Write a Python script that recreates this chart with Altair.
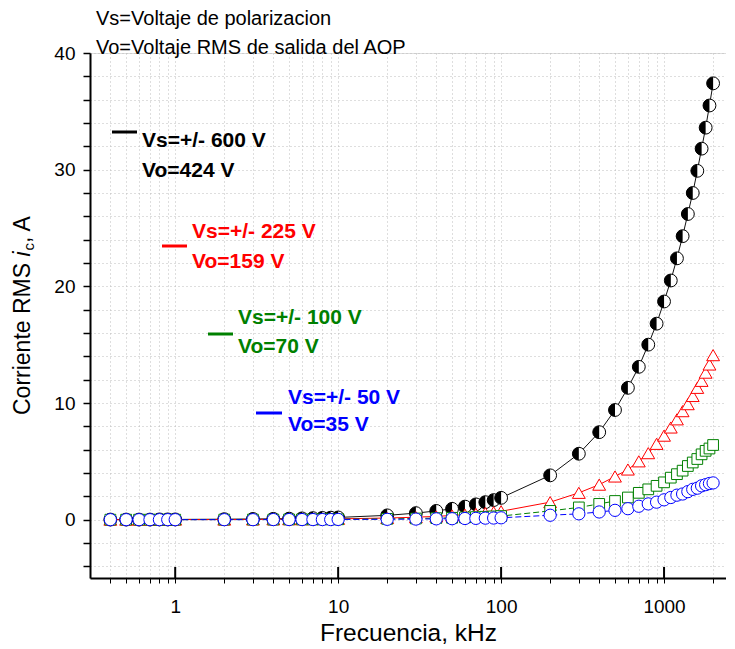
import altair as alt
import pandas as pd

# ---------------- data ----------------
freq = [0.4, 0.5, 0.6, 0.7, 0.8, 0.9, 1,
        2, 3, 4, 5, 6, 7, 8, 9, 10,
        20, 30, 40, 50, 60, 70, 80, 90, 100,
        200, 300, 400, 500, 600, 700, 800, 900, 1000,
        1100, 1200, 1300, 1400, 1500, 1600, 1700, 1800, 1900, 2000]

i_600 = [0.01, 0.01, 0.01, 0.01, 0.02, 0.02, 0.02,
         0.04, 0.06, 0.07, 0.09, 0.11, 0.13, 0.15, 0.17, 0.19,
         0.37, 0.56, 0.75, 0.93, 1.12, 1.31, 1.5, 1.68, 1.87,
         3.8, 5.65, 7.5, 9.4, 11.3, 13.1, 15.0, 16.8, 18.7,
         20.5, 22.4, 24.3, 26.2, 28.0, 29.9, 31.8, 33.6, 35.5, 37.4]

i_225 = [0.0, 0.0, 0.0, 0.0, 0.01, 0.01, 0.01,
         0.01, 0.02, 0.03, 0.04, 0.04, 0.05, 0.06, 0.06, 0.07,
         0.14, 0.21, 0.28, 0.36, 0.43, 0.5, 0.57, 0.64, 0.72,
         1.5, 2.3, 3.0, 3.7, 4.3, 5.0, 5.7, 6.5, 7.2,
         7.9, 8.6, 9.3, 9.9, 10.6, 11.3, 11.9, 12.6, 13.3, 14.1]

i_100 = [0.0, 0.0, 0.0, 0.0, 0.0, 0.0, 0.0,
         0.01, 0.01, 0.01, 0.02, 0.02, 0.02, 0.03, 0.03, 0.03,
         0.07, 0.1, 0.13, 0.16, 0.19, 0.22, 0.25, 0.28, 0.31,
         0.75, 1.05, 1.35, 1.6, 1.9, 2.3, 2.6, 2.9, 3.2,
         3.6, 3.9, 4.2, 4.6, 4.9, 5.2, 5.6, 5.9, 6.1, 6.4]

i_50 = [0.0, 0.0, 0.0, 0.0, 0.0, 0.0, 0.0,
        0.0, 0.0, 0.01, 0.01, 0.01, 0.01, 0.01, 0.01, 0.02,
        0.03, 0.05, 0.07, 0.08, 0.1, 0.11, 0.13, 0.14, 0.16,
        0.38, 0.5, 0.66, 0.8, 0.94, 1.15, 1.35, 1.5, 1.7,
        1.9, 2.1, 2.2, 2.4, 2.6, 2.7, 2.9, 3.0, 3.1, 3.15]

x_tick_values = [0.4, 0.5, 0.6, 0.7, 0.8, 0.9,
                 1, 2, 3, 4, 5, 6, 7, 8, 9,
                 10, 20, 30, 40, 50, 60, 70, 80, 90,
                 100, 200, 300, 400, 500, 600, 700, 800, 900,
                 1000, 2000]
x_major = [1, 10, 100, 1000]
y_tick_values = list(range(-4, 41, 2))

FONT = "Liberation Sans"

# ---------------- scales / axes ----------------
x_scale = alt.Scale(type="log", domain=[0.3, 2400], nice=False)
y_scale = alt.Scale(domain=[-5, 40], nice=False, zero=False)

x_axis = alt.Axis(
    values=x_tick_values, format="d",
    labelExpr="indexof([1,10,100,1000], datum.value) >= 0 ? datum.label : ''",
    tickSize=5, tickColor="black", tickWidth=1,
    domainColor="black", domainWidth=2,
    grid=True, gridColor="#bdbdbd", gridDash=[1, 3], gridWidth=1,
    labelFontSize=19, labelColor="black", labelPadding=14, labelFont=FONT,
    title="Frecuencia, kHz", titleFontSize=24.5, titleFontWeight="normal",
    titleColor="black", titlePadding=5, titleFont=FONT,
)
y_axis = alt.Axis(
    values=y_tick_values, format="d",
    labelExpr="datum.value % 10 === 0 ? datum.label : ''",
    tickSize=7, tickColor="black", tickWidth=1.5,
    domainColor="black", domainWidth=2,
    grid=True, gridColor="#bdbdbd", gridDash=[1, 3], gridWidth=1,
    labelFontSize=19, labelColor="black", labelPadding=8, labelFont=FONT,
    title=None,
)

X = alt.X("f:Q", scale=x_scale, axis=x_axis)
Y = alt.Y("i:Q", scale=y_scale, axis=y_axis)


def series_df(values):
    return pd.DataFrame({"f": freq, "i": values})


layers = []

# black: +/-600 V, half-filled circles
d600 = series_df(i_600)
layers.append(alt.Chart(d600).mark_line(color="#111111", strokeWidth=1).encode(x=X, y=Y))
layers.append(alt.Chart(d600).mark_point(shape="circle", filled=True, fill="white",
                                         stroke="black", strokeWidth=1, size=165,
                                         opacity=1).encode(x=X, y=Y))
layers.append(alt.Chart(d600).mark_point(shape="M0,-1A1,1 0 0,0 0,1Z", filled=True,
                                         color="black", strokeWidth=0, size=165,
                                         opacity=1).encode(x=X, y=Y))

# red: +/-225 V, triangles
d225 = series_df(i_225)
layers.append(alt.Chart(d225).mark_line(color="#ff0000", strokeWidth=1).encode(x=X, y=Y))
layers.append(alt.Chart(d225).mark_point(shape="triangle-up", filled=True, fill="white",
                                         stroke="#ff0000", strokeWidth=1, size=165,
                                         opacity=1).encode(x=X, y=Y))

# green: +/-100 V, squares
d100 = series_df(i_100)
layers.append(alt.Chart(d100).mark_line(color="#008000", strokeWidth=1,
                                        strokeDash=[6, 3]).encode(x=X, y=Y))
layers.append(alt.Chart(d100).mark_point(shape="square", filled=True, fill="white",
                                         stroke="#008000", strokeWidth=1, size=115,
                                         opacity=1).encode(x=X, y=Y))

# blue: +/-50 V, circles
d50 = series_df(i_50)
layers.append(alt.Chart(d50).mark_line(color="#0000ff", strokeWidth=1,
                                       strokeDash=[6, 3]).encode(x=X, y=Y))
layers.append(alt.Chart(d50).mark_point(shape="circle", filled=True, fill="white",
                                        stroke="#0000ff", strokeWidth=1, size=150,
                                        opacity=1).encode(x=X, y=Y))

# inward major ticks on the x axis
layers.append(alt.Chart(pd.DataFrame({"f": x_major})).mark_rule(
    color="black", strokeWidth=2).encode(x=X, y=alt.value(525), y2=alt.value(514)))

one = alt.Data(values=[{"k": 1}])


def text(t, x, y, size, color="black", weight="normal", **kw):
    return alt.Chart(one).mark_text(
        text=t, font=FONT, fontSize=size, color=color, fontWeight=weight,
        align="left", baseline="middle", **kw
    ).encode(x=alt.value(x), y=alt.value(y))


def seg(x1, x2, y, color):
    return alt.Chart(one).mark_rule(color=color, strokeWidth=3).encode(
        x=alt.value(x1), x2=alt.value(x2), y=alt.value(y))


# header notes
layers.append(text("Vs=Voltaje de polarizacion", 6, -34, 20))
layers.append(text("Vo=Voltaje RMS de salida del AOP", 6, -5, 20))

# in-plot legend annotations
AN = 21
layers.append(seg(22, 47, 79, "black"))
layers.append(text("Vs=+/- 600 V", 52, 88, AN, "black", "bold"))
layers.append(text("Vo=424 V", 52, 118, AN, "black", "bold"))

layers.append(seg(72, 97, 193, "#ff0000"))
layers.append(text("Vs=+/- 225 V", 102, 179, AN, "#ff0000", "bold"))
layers.append(text("Vo=159 V", 102, 209, AN, "#ff0000", "bold"))

layers.append(seg(118, 143, 281, "#008000"))
layers.append(text("Vs=+/- 100 V", 148, 265, AN, "#008000", "bold"))
layers.append(text("Vo=70 V", 148, 294, AN, "#008000", "bold"))

layers.append(seg(166, 192, 360, "#0000ff"))
layers.append(text("Vs=+/- 50 V", 198, 345, AN, "#0000ff", "bold"))
layers.append(text("Vo=35 V", 198, 372, AN, "#0000ff", "bold"))

# y-axis title with italic i and subscript c
YT_X, YT_Y = -67, 362
layers.append(text("Corriente RMS", YT_X, YT_Y, 23, angle=270))
layers.append(text("i", YT_X, YT_Y, 23, angle=270, dx=158.4, fontStyle="italic"))
layers.append(text("c", YT_X, YT_Y, 15, angle=270, dx=164.5, dy=6))
layers.append(text(", A", YT_X, YT_Y, 23, angle=270, dx=172))

chart = alt.layer(*layers).properties(
    width=636, height=525,
    padding={"left": 4, "top": 1, "right": 0, "bottom": 0},
).configure_view(stroke=None).configure(font=FONT)

chart.save("out.html", embed_options={"renderer": "svg", "actions": False})
